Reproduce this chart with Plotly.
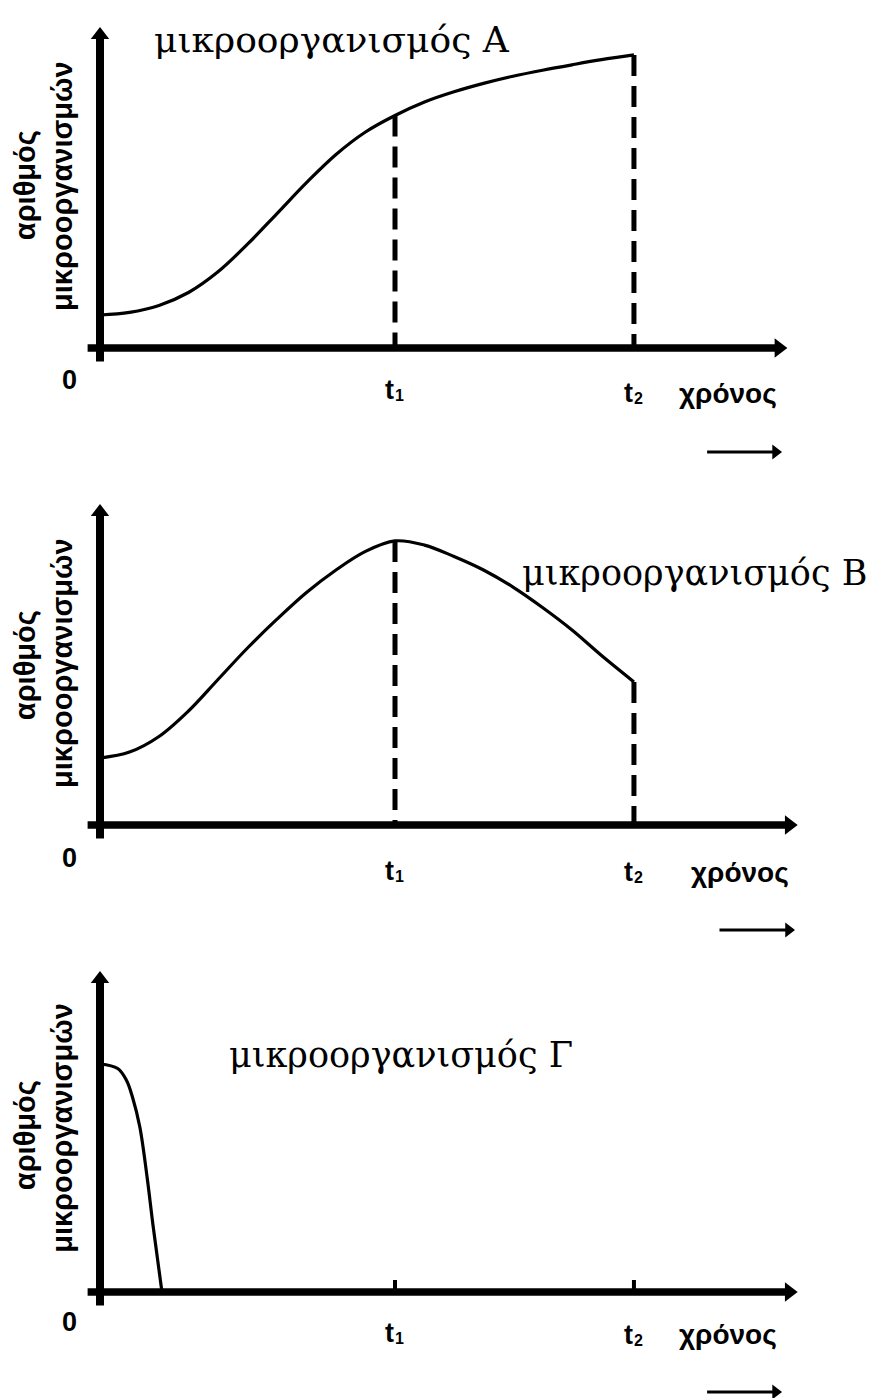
import plotly.graph_objects as go

# ---------------- data ----------------
T1 = 10
T2 = 18.1

time_A = [0, 1, 2, 3, 4, 5, 6, 7, 8, 9, 10, 11, 12, 13, 14, 15, 16, 17, 18.1]
count_A = [11, 11.9, 14.2, 18.5, 25.4, 34.6, 44.8, 55.1, 64.5, 72, 77.5, 82, 85.4, 88.2,
           90.6, 92.6, 94.4, 96.1, 97.7]

time_B = [0, 1, 2, 3, 4, 5, 6, 7, 8, 9, 10, 11, 12, 13, 14, 15, 16, 17, 18.1]
count_B = [22.3, 24.3, 29.5, 38, 48.5, 59, 68.6, 77.5, 85, 91.2, 94.7, 93.3, 89.5, 85,
           79.3, 72.5, 65, 56.5, 47.7]

time_C = [0, 0.6, 0.9, 1.1, 1.35, 1.6, 1.8, 2.1]
count_C = [76, 74.5, 70.5, 65, 55, 38, 22, 0]

panel_titles = ["μικροοργανισμός Α", "μικροοργανισμός Β", "μικροοργανισμός Γ"]
y_label_1 = "αριθμός"
y_label_2 = "μικροοργανισμών"
x_label = "χρόνος"
origin_label = "0"
tick_base = "t"
tick_subs = ["1", "2"]

# ---------------- layout helpers ----------------
PAGE_OFFSET = 8          # default body margin of the html page
W, H = 881 - PAGE_OFFSET, 1398 - PAGE_OFFSET
PX_PER_T = 29.5
X0_PX = 100 - PAGE_OFFSET
x_range = [-X0_PX / PX_PER_T, (W - X0_PX) / PX_PER_T]

# panel geometry in figure px: (top, bottom, x-axis line)
panels = [(0, 458, 340), (458, 924, 817), (924, 1390, 1284)]
PX_PER_Y = 3.0

fig = go.Figure()
layout = dict(width=W, height=H, margin=dict(l=0, r=0, t=0, b=0),
              paper_bgcolor="white", plot_bgcolor="white", showlegend=False)

annotations = []
SANS = "Liberation Sans"
SERIF = "DejaVu Serif"

series = [(time_A, count_A), (time_B, count_B), (time_C, count_C)]
title_pos = [(7.85, 102.7), (20.15, 84), (10.2, 79)]
title_size = [36, 35, 35]
xtip = [23.3, 23.65, 23.65]
ytip = 107
y_axis_bottom = -4.5
x_axis_left = -0.42
ylab_y = [(54.3, 54), (53.3, 54), (52.3, 54.7)]
tick_y = [(-10.7, -14, -15), (-11, -15.3, -15.7), (-10, -13.7, -14.3)]
chronos_x = [21.3, 21.7, 21.3]
small_arrow = [(20.58, 23.12, -34.7), (21.0, 23.56, -35), (20.58, 23.12, -33.3)]

HEAD_Y, HEAD_X, HEAD_S = 16, 17, 13   # marker sizes of arrow heads (px)

def line(xa, ya, xs, ys, width, dash=None):
    fig.add_trace(go.Scatter(x=xs, y=ys, mode="lines", xaxis=xa, yaxis=ya,
                             cliponaxis=False, hoverinfo="skip",
                             line=dict(color="black", width=width, dash=dash)))

def head(xa, ya, x, y, symbol, size):
    fig.add_trace(go.Scatter(x=[x], y=[y], mode="markers", xaxis=xa, yaxis=ya,
                             cliponaxis=False, hoverinfo="skip",
                             marker=dict(symbol=symbol, size=size, color="black",
                                         line=dict(width=0))))

def label(xa, ya, x, y, text, size, family=SANS, bold=True, angle=0):
    annotations.append(dict(x=x, y=y, xref=xa, yref=ya, showarrow=False, text=text,
                            textangle=angle,
                            font=dict(family=family, size=size, color="black",
                                      weight="bold" if bold else "normal")))

for i, (top, bot, axis_px) in enumerate(panels):
    n = "" if i == 0 else str(i + 1)
    xa, ya = "x" + n, "y" + n
    y_top = (axis_px - top) / PX_PER_Y
    y_bot = -(bot - axis_px) / PX_PER_Y
    layout["xaxis" + n] = dict(domain=[0, 1], range=x_range, anchor=ya, visible=False,
                               fixedrange=True)
    layout["yaxis" + n] = dict(domain=[1 - bot / H, 1 - top / H], range=[y_bot, y_top],
                               anchor=xa, visible=False, fixedrange=True)
    t, c = series[i]

    # axes with arrow heads
    yhead_c = ytip - (HEAD_Y / 2) / PX_PER_Y
    line(xa, ya, [0, 0], [y_axis_bottom, yhead_c], 8)
    head(xa, ya, 0, yhead_c, "triangle-up", HEAD_Y)
    xhead_c = xtip[i] - (HEAD_X / 2) / PX_PER_T
    line(xa, ya, [x_axis_left, xhead_c], [0, 0], 7.5)
    head(xa, ya, xhead_c, 0, "triangle-right", HEAD_X)

    # main curve
    fig.add_trace(go.Scatter(x=t, y=c, mode="lines", xaxis=xa, yaxis=ya, cliponaxis=False,
                             line=dict(color="black", width=3.2, shape="spline",
                                       smoothing=1.0)))
    # dashed guides / ticks
    if i < 2:
        y_t1 = c[t.index(T1)]
        y_t2 = c[t.index(T2)]
        for tt, yy in [(T1, y_t1), (T2, y_t2)]:
            line(xa, ya, [tt, tt], [yy, 0], 5, "21px,10px")
    else:
        for tt in [T1, T2]:
            line(xa, ya, [tt, tt], [4, 0], 4)

    # small arrow below
    sx0, sx1, sy = small_arrow[i]
    shead_c = sx1 - (HEAD_S / 2) / PX_PER_T
    line(xa, ya, [sx0, shead_c], [sy, sy], 3)
    head(xa, ya, shead_c, sy, "triangle-right", HEAD_S)

    # title
    tx, ty = title_pos[i]
    label(xa, ya, tx, ty, panel_titles[i], title_size[i], family=SERIF, bold=False)
    # y labels
    y1, y2 = ylab_y[i]
    label(xa, ya, -2.54, y1, y_label_1, 29, angle=-90)
    label(xa, ya, -1.29, y2, y_label_2, 29, angle=-90)
    # tick labels
    zy, t1y, t2y = tick_y[i]
    label(xa, ya, -1.02, zy, origin_label, 27)
    for tt, ty_, sub in [(T1, t1y, tick_subs[0]), (T2, t2y, tick_subs[1])]:
        label(xa, ya, tt - 0.18, ty_, tick_base, 27)
        label(xa, ya, tt + 0.16, ty_ - 1.9, sub, 16)
    label(xa, ya, chronos_x[i], t2y, x_label, 28)

layout["annotations"] = annotations
fig.update_layout(**layout)
fig.write_html("out.html")
